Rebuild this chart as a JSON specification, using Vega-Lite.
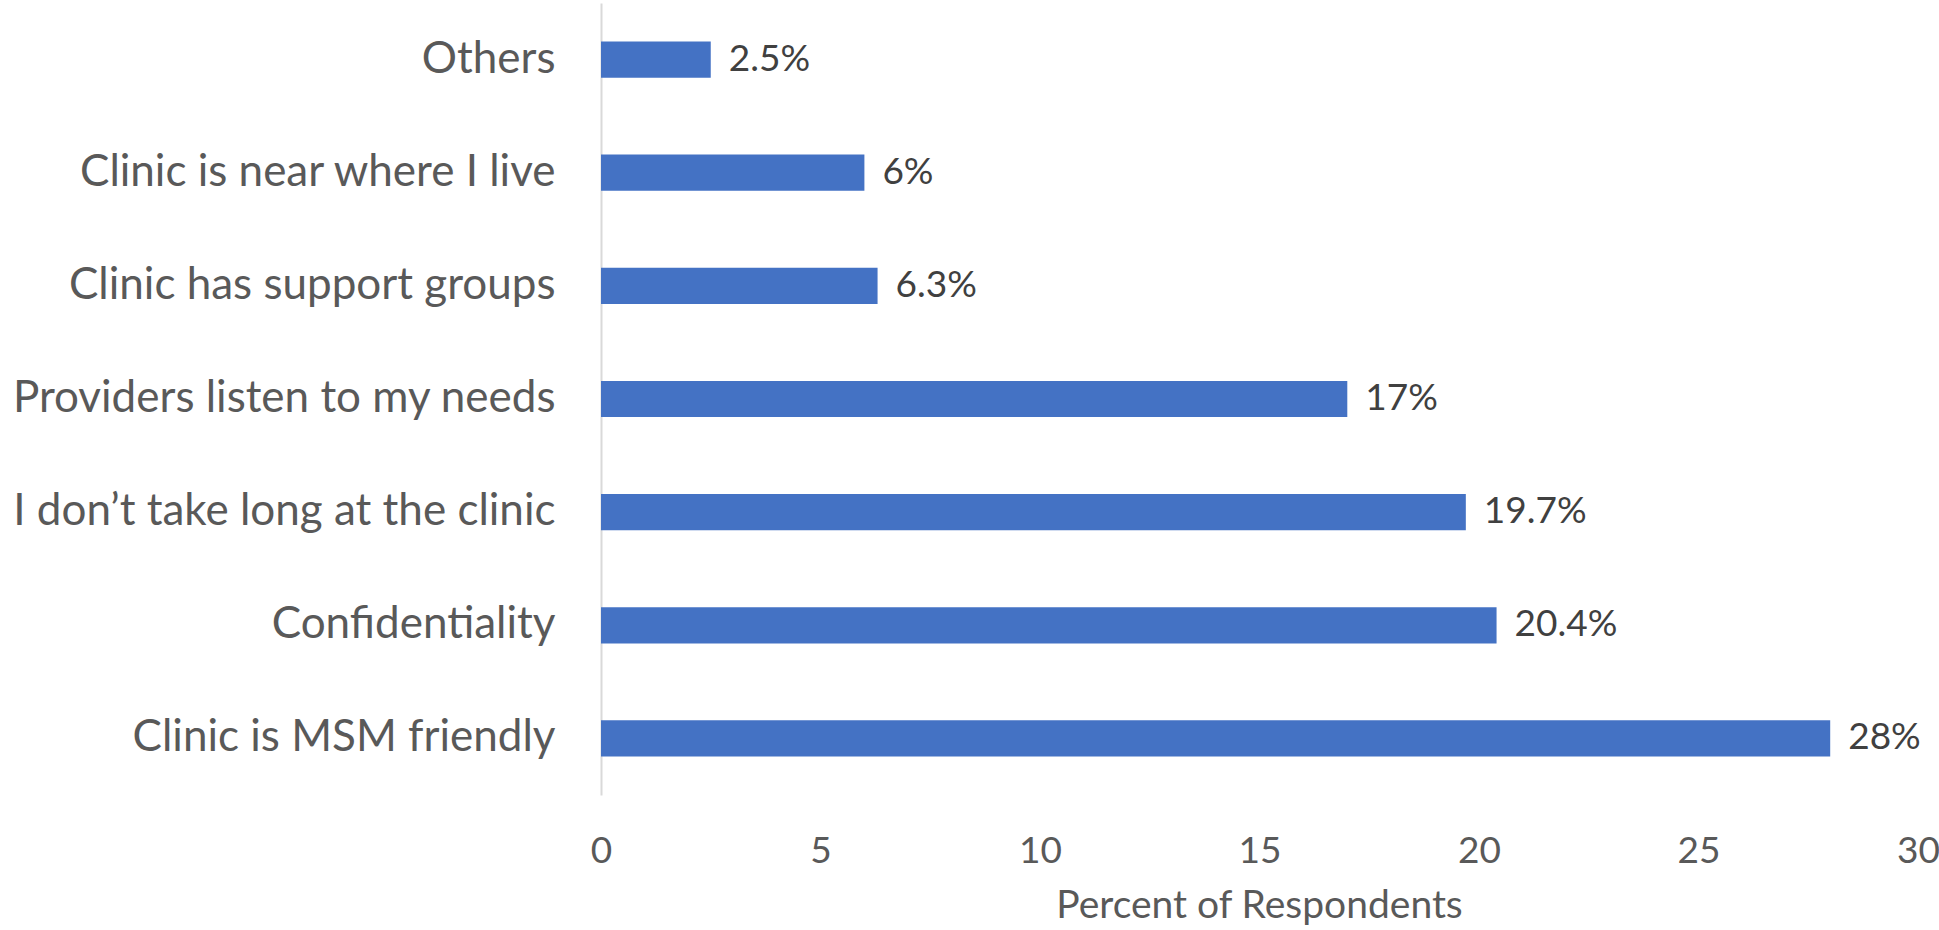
{
  "$schema": "https://vega.github.io/schema/vega-lite/v6.json",
  "width": 1317,
  "height": 792,
  "autosize": {"type": "none"},
  "padding": {"left": 601, "top": 3, "right": 21, "bottom": 135},
  "background": "white",
  "config": {"view": {"stroke": null}, "font": "Lato"},
  "data": {"values": [
    {"reason": "Others", "percent": 2.5, "label": "2.5%"},
    {"reason": "Clinic is near where I live", "percent": 6, "label": "6%"},
    {"reason": "Clinic has support groups", "percent": 6.3, "label": "6.3%"},
    {"reason": "Providers listen to my needs", "percent": 17, "label": "17%"},
    {"reason": "I don’t take long at the clinic", "percent": 19.7, "label": "19.7%"},
    {"reason": "Confidentiality", "percent": 20.4, "label": "20.4%"},
    {"reason": "Clinic is MSM friendly", "percent": 28, "label": "28%"}
  ]},
  "encoding": {
    "y": {
      "field": "reason", "type": "nominal", "sort": null,
      "scale": {"paddingInner": 0.68, "paddingOuter": 0.34},
      "axis": {
        "title": null, "ticks": false, "tickSize": 0,
        "domainColor": "#d9d9d9", "domainWidth": 2,
        "labelFontSize": 44, "labelColor": "#595959", "labelPadding": 46,
        "labelLimit": 700, "labelFont": "Lato"
      }
    },
    "x": {
      "field": "percent", "type": "quantitative",
      "scale": {"domain": [0, 30], "nice": false},
      "axis": {
        "title": "Percent of Respondents", "values": [0, 5, 10, 15, 20, 25, 30],
        "domain": false, "grid": false, "ticks": false, "tickSize": 0,
        "labelFontSize": 37, "labelColor": "#595959", "labelBaseline": "alphabetic",
        "labelPadding": 67, "labelFlush": false, "labelFont": "Lato",
        "titleFontSize": 39, "titleColor": "#595959", "titleFontWeight": "normal",
        "titleFont": "Lato", "titleBaseline": "alphabetic", "titleY": 122, "titleX": 658
      }
    }
  },
  "layer": [
    {"mark": {"type": "bar", "color": "#4472C4"}},
    {"mark": {"type": "text", "align": "left", "baseline": "middle", "dx": 18, "fontSize": 37, "color": "#404040", "font": "Lato"},
     "encoding": {"text": {"field": "label"}}}
  ]
}
